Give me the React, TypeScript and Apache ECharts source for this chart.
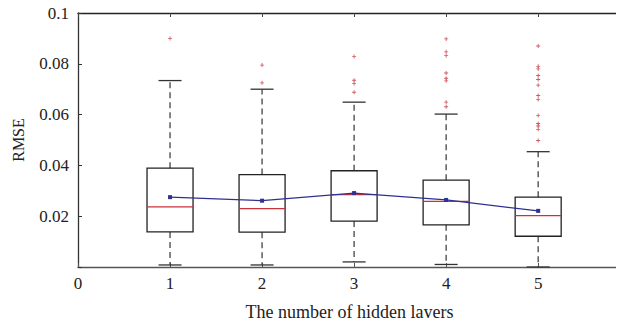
import React, { useEffect, useRef } from "react";
import * as echarts from "echarts";

const categories = [1, 2, 3, 4, 5];
const lowWhisker = [0.0008, 0.0008, 0.002, 0.001, 0.0];
const q1 = [0.0138, 0.0137, 0.0181, 0.0166, 0.0121];
const medians = [0.0237, 0.023, 0.0285, 0.0258, 0.0202];
const q3 = [0.0389, 0.0364, 0.0379, 0.0342, 0.0275];
const highWhisker = [0.0734, 0.07, 0.0649, 0.0602, 0.0454];
const means = [0.0275, 0.0261, 0.0291, 0.0264, 0.0221];

const outliers1 = [0.09];
const outliers2 = [0.0795, 0.0725];
const outliers3 = [0.0829, 0.0735, 0.0722, 0.0688];
const outliers4 = [0.0898, 0.0847, 0.0832, 0.0764, 0.0743, 0.0733, 0.0649, 0.0631];
const outliers5 = [0.087, 0.079, 0.078, 0.0754, 0.0738, 0.0716, 0.0675, 0.0659, 0.0596, 0.0565, 0.0555, 0.0542, 0.0498];
const outlierGroups = [outliers1, outliers2, outliers3, outliers4, outliers5];

const yTicks = [0, 0.02, 0.04, 0.06, 0.08, 0.1];

const FONT = "'Liberation Serif', 'DejaVu Serif', serif";

export default function App() {
  const ref = useRef<HTMLDivElement>(null);
  useEffect(() => {
    if (!ref.current) return;
    const chart = echarts.init(ref.current, undefined, { renderer: "svg" });
    const boxData = categories.map((c, i) => [c, lowWhisker[i], q1[i], medians[i], q3[i], highWhisker[i]]);
    const outlierData: number[][] = [];
    outlierGroups.forEach((g, i) => g.forEach((v) => outlierData.push([categories[i], v])));
    const meanData = categories.map((c, i) => [c, means[i]]);

    const renderItem = (params: any, api: any) => {
      const x = api.value(0);
      const lo = api.coord([x, api.value(1)]);
      const b1 = api.coord([x, api.value(2)]);
      const md = api.coord([x, api.value(3)]);
      const b3 = api.coord([x, api.value(4)]);
      const hi = api.coord([x, api.value(5)]);
      const unit = api.size([1, 0])[0];
      const halfBoxW = unit * 0.25;
      const halfCap = unit * 0.125;
      const cx = lo[0];
      const dash = { stroke: "#444", lineWidth: 1.3, lineDash: [6, 4] };
      const solid = { stroke: "#333", lineWidth: 1.3 };
      return {
        type: "group",
        children: [
          { type: "line", shape: { x1: cx, y1: b1[1], x2: cx, y2: lo[1] }, style: dash },
          { type: "line", shape: { x1: cx, y1: b3[1], x2: cx, y2: hi[1] }, style: dash },
          { type: "line", shape: { x1: cx - halfCap, y1: lo[1], x2: cx + halfCap, y2: lo[1] }, style: solid },
          { type: "line", shape: { x1: cx - halfCap, y1: hi[1], x2: cx + halfCap, y2: hi[1] }, style: solid },
          {
            type: "rect",
            shape: { x: cx - halfBoxW, y: b3[1], width: halfBoxW * 2, height: b1[1] - b3[1] },
            style: { fill: "none", stroke: "#222", lineWidth: 1.3 },
          },
          {
            type: "line",
            shape: { x1: cx - halfBoxW, y1: md[1], x2: cx + halfBoxW, y2: md[1] },
            style: { stroke: "#c8323c", lineWidth: 1.3 },
          },
        ],
      };
    };

    const option: any = {
      animation: false,
      grid: { left: 78, right: 0, top: 13, bottom: 57.3, containLabel: false },
      xAxis: [
        {
          type: "value",
          min: 0,
          max: 5.9,
          interval: 1,
          name: "The number of hidden layers",
          nameLocation: "middle",
          nameGap: 36,
          nameTextStyle: { fontFamily: FONT, fontSize: 18, color: "#222" },
          axisLine: { show: true, lineStyle: { color: "#555", width: 1.3 } },
          axisTick: { show: true, inside: true, length: 4, lineStyle: { color: "#555" } },
          axisLabel: {
            fontFamily: FONT,
            fontSize: 17,
            color: "#222",
            margin: 8,
            formatter: (v: number) => (v > 5 ? "" : String(v)),
          },
          splitLine: { show: false },
        },
        {
          type: "value",
          position: "top",
          min: 0,
          max: 5.9,
          interval: 1,
          axisLine: { show: true, lineStyle: { color: "#222", width: 1.3 } },
          axisTick: { show: true, inside: true, length: 4, lineStyle: { color: "#444" } },
          axisLabel: { show: false },
          splitLine: { show: false },
        },
      ],
      yAxis: {
        type: "value",
        min: yTicks[0],
        max: yTicks[yTicks.length - 1],
        interval: 0.02,
        name: "RMSE",
        nameLocation: "middle",
        nameGap: 52,
        nameTextStyle: { fontFamily: FONT, fontSize: 16, color: "#222" },
        axisLine: { show: true, lineStyle: { color: "#333", width: 1.3 } },
        axisTick: { show: true, inside: true, length: 4, lineStyle: { color: "#333" } },
        axisLabel: {
          fontFamily: FONT,
          fontSize: 17,
          color: "#222",
          margin: 9,
          formatter: (v: number) => (v === 0 ? "" : String(Math.round(v * 100) / 100)),
        },
        splitLine: { show: false },
      },
      series: [
        {
          type: "custom",
          renderItem,
          data: boxData,
          encode: { x: 0, y: [1, 2, 3, 4, 5] },
          z: 2,
        },
        {
          type: "scatter",
          data: outlierData,
          symbol: "path://M-1,-0.22H-0.22V-1H0.22V-0.22H1V0.22H0.22V1H-0.22V0.22H-1Z",
          symbolSize: 4,
          itemStyle: { color: "#c0313c" },
          z: 3,
        },
        {
          type: "line",
          data: meanData,
          symbol: "rect",
          symbolSize: 4,
          lineStyle: { color: "#2e3192", width: 1.2 },
          itemStyle: { color: "#2e3192" },
          z: 4,
        },
      ],
    };
    chart.setOption(option);
    return () => chart.dispose();
  }, []);
  return <div ref={ref} style={{ width: 624, height: 326, margin: -8 }} />;
}
